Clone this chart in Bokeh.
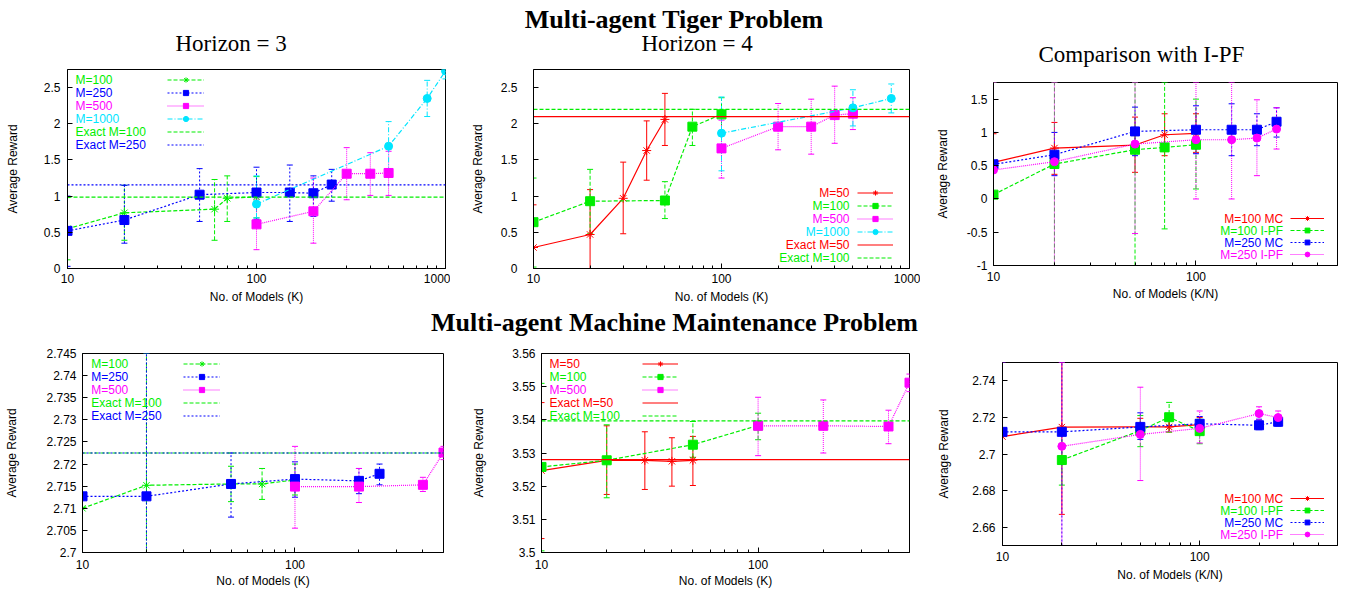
from bokeh.plotting import figure
from bokeh.models import (ColumnDataSource, Whisker, TeeHead, Legend, LegendItem,
                          Label, FixedTicker, PrintfTickFormatter, Range1d)
from bokeh.layouts import column, row
from bokeh.embed import file_html
from bokeh.resources import INLINE

# ---------------- data ----------------
XMAJOR_1000 = [10, 100, 1000]
XMAJOR_500 = [10, 100]
XMINOR = [20, 30, 40, 50, 60, 70, 80, 90, 200, 300, 400, 500, 600, 700, 800, 900]

# Tiger, Horizon = 3
T3_M100_X = [10, 20, 60, 70, 100]
T3_M100_Y = [0.55, 0.77, 0.82, 0.97, 0.99]
T3_M100_LO = [0.12, 0.39, 0.39, 0.65, 0.70]
T3_M100_HI = [0.98, 1.15, 1.23, 1.28, 1.27]
T3_M250_X = [10, 20, 50, 100, 150, 200, 250]
T3_M250_Y = [0.52, 0.67, 1.02, 1.05, 1.05, 1.04, 1.16]
T3_M250_LO = [0.03, 0.35, 0.65, 0.68, 0.65, 0.72, 0.93]
T3_M250_HI = [1.00, 1.15, 1.38, 1.40, 1.43, 1.28, 1.37]
T3_M500_X = [100, 200, 300, 400, 500]
T3_M500_Y = [0.61, 0.79, 1.31, 1.31, 1.32]
T3_M500_LO = [0.26, 0.35, 0.95, 1.01, 1.01]
T3_M500_HI = [0.96, 1.25, 1.67, 1.60, 1.62]
T3_M1000_X = [100, 500, 800, 1000]
T3_M1000_Y = [0.89, 1.69, 2.35, 2.73]
T3_M1000_LO = [0.70, 1.33, 2.10, 2.62]
T3_M1000_HI = [1.28, 2.03, 2.60, 2.75]
T3_EXACT = [0.985, 1.155]

# Tiger, Horizon = 4
T4_M50_X = [10, 20, 30, 40, 50]
T4_M50_Y = [0.29, 0.47, 0.97, 1.63, 2.06]
T4_M50_LO = [0.0, 0.0, 0.48, 1.22, 1.70]
T4_M50_HI = [0.88, 1.09, 1.47, 2.04, 2.42]
T4_M100_X = [10, 20, 50, 70, 100]
T4_M100_Y = [0.64, 0.93, 0.94, 1.96, 2.13]
T4_M100_LO = [0.02, 0.48, 0.69, 1.70, 1.90]
T4_M100_HI = [1.25, 1.37, 1.20, 2.20, 2.36]
T4_M500_X = [100, 200, 300, 400, 500]
T4_M500_Y = [1.66, 1.96, 1.96, 2.12, 2.14]
T4_M500_LO = [1.25, 1.64, 1.58, 1.73, 1.92]
T4_M500_HI = [2.05, 2.28, 2.34, 2.52, 2.36]
T4_M1000_X = [100, 500, 800]
T4_M1000_Y = [1.87, 2.22, 2.35]
T4_M1000_LO = [1.35, 1.97, 2.15]
T4_M1000_HI = [2.37, 2.47, 2.55]
T4_EXACT = [2.10, 2.20]

# Tiger, comparison with I-PF
TC_M100MC_X = [10, 20, 50, 70, 100]
TC_M100MC_Y = [0.55, 0.765, 0.81, 0.965, 0.985]
TC_M100MC_LO = [0.10, 0.37, 0.40, 0.65, 0.70]
TC_M100MC_HI = [0.98, 1.15, 1.23, 1.28, 1.28]
TC_M100PF_X = [10, 20, 50, 70, 100]
TC_M100PF_Y = [0.065, 0.525, 0.74, 0.775, 0.815]
TC_M100PF_LO = [-1.0, -1.0, -1.0, -0.45, 0.15]
TC_M100PF_HI = [1.75, 1.75, 1.75, 1.75, 1.50]
TC_M250MC_X = [10, 20, 50, 100, 150, 200, 250]
TC_M250MC_Y = [0.52, 0.665, 1.015, 1.04, 1.04, 1.04, 1.16]
TC_M250MC_LO = [0.03, 0.35, 0.65, 0.68, 0.65, 0.80, 0.93]
TC_M250MC_HI = [1.00, 1.00, 1.38, 1.40, 1.43, 1.28, 1.37]
TC_M250PF_X = [10, 20, 50, 100, 150, 200, 250]
TC_M250PF_Y = [0.435, 0.56, 0.825, 0.89, 0.89, 0.915, 1.05]
TC_M250PF_LO = [-1.0, -1.0, -0.52, 0.0, 0.0, 0.35, 0.75]
TC_M250PF_HI = [1.75, 1.75, 1.75, 1.75, 1.75, 1.49, 1.37]

# Machine maintenance, first panel
MA_M100_X = [10, 20, 50, 70, 100]
MA_M100_Y = [2.7100, 2.7152, 2.7155, 2.7155, 2.7164]
MA_M100_LO = [2.7000, 2.7000, 2.7115, 2.7120, 2.7130]
MA_M100_HI = [2.7450, 2.7450, 2.7195, 2.7190, 2.7200]
MA_M250_X = [10, 20, 50, 100, 200, 250]
MA_M250_Y = [2.7127, 2.7127, 2.7155, 2.7166, 2.7162, 2.7178]
MA_M250_LO = [2.7000, 2.7000, 2.7080, 2.7125, 2.7133, 2.7153]
MA_M250_HI = [2.7450, 2.7450, 2.7225, 2.7205, 2.7190, 2.7200]
MA_M500_X = [100, 200, 400, 500]
MA_M500_Y = [2.7149, 2.7149, 2.7153, 2.7226]
MA_M500_LO = [2.7055, 2.7113, 2.7138, 2.7210]
MA_M500_HI = [2.7240, 2.7190, 2.7170, 2.7240]
MA_EXACT = [2.7225, 2.7225]

# Machine maintenance, second panel
MB_M50_X = [10, 20, 30, 40, 50]
MB_M50_Y = [3.5247, 3.5278, 3.5278, 3.5275, 3.5278]
MB_M50_LO = [3.5042, 3.5175, 3.5190, 3.5200, 3.5202]
MB_M50_HI = [3.5452, 3.5382, 3.5364, 3.5346, 3.5350]
MB_M100_X = [10, 20, 50, 100]
MB_M100_Y = [3.5258, 3.5278, 3.5325, 3.5383]
MB_M100_LO = [3.5005, 3.5165, 3.5287, 3.5340]
MB_M100_HI = [3.5510, 3.5385, 3.5395, 3.5420]
MB_M500_X = [100, 200, 400, 500]
MB_M500_Y = [3.5382, 3.5382, 3.5380, 3.5512]
MB_M500_LO = [3.5292, 3.5300, 3.5328, 3.5485]
MB_M500_HI = [3.5468, 3.5460, 3.5429, 3.5538]
MB_EXACT = [3.5280, 3.5397]

# Machine maintenance, comparison with I-PF
MC_M100MC_X = [10, 20, 50, 70, 100]
MC_M100MC_Y = [2.7095, 2.7147, 2.7148, 2.7148, 2.7161]
MC_M100MC_LO = [2.6500, 2.6670, 2.7115, 2.7120, 2.7130]
MC_M100MC_HI = [2.7500, 2.7500, 2.7195, 2.7190, 2.7200]
MC_M100PF_X = [20, 50, 70, 100]
MC_M100PF_Y = [2.6967, 2.7128, 2.7201, 2.7125]
MC_M100PF_LO = [2.6830, 2.7040, 2.7120, 2.7056]
MC_M100PF_HI = [2.7105, 2.7210, 2.7282, 2.7190]
MC_M250MC_X = [10, 20, 50, 100, 200, 250]
MC_M250MC_Y = [2.7121, 2.7121, 2.7148, 2.7165, 2.7157, 2.7176]
MC_M250MC_LO = [2.6500, 2.6500, 2.7080, 2.7125, 2.7133, 2.7153]
MC_M250MC_HI = [2.7500, 2.7500, 2.7225, 2.7205, 2.7190, 2.7200]
MC_M250PF_X = [20, 50, 100, 200, 250]
MC_M250PF_Y = [2.7042, 2.7107, 2.7140, 2.7221, 2.7199]
MC_M250PF_LO = [2.6500, 2.6855, 2.7060, 2.7185, 2.7162]
MC_M250PF_HI = [2.7500, 2.7365, 2.7235, 2.7258, 2.7235]

# ---------------- styles ----------------
STY = {
    "red": ("#ff0000", "solid"),
    "green": ("#00ee00", "4 2"),
    "blue": ("#0000ff", "2 2"),
    "magenta": ("#ff00ff", "1 1"),
    "cyan": ("#00e5ff", "5 2 1 2"),
}
SANS = "Liberation Sans"
SERIF = "Liberation Serif"
MSIZE = {"square": 9, "asterisk": 9, "circle": 8}


def make_panel(w, h, bl, br, bt, bb, xr, yr, xticks, yticks, xlabel,
               y_tick_so, y_lab_so, x_tick_so, x_lab_so, series, exacts, leg):
    p = figure(width=w, height=h, x_axis_type="log", x_range=Range1d(*xr), y_range=Range1d(*yr),
               output_backend="svg", toolbar_location=None,
               min_border_left=bl, min_border_right=br, min_border_top=bt, min_border_bottom=bb)
    p.grid.visible = False
    p.outline_line_color = "black"
    p.outline_line_width = 1
    xa, ya = p.xaxis[0], p.yaxis[0]
    xa.ticker = FixedTicker(ticks=xticks, minor_ticks=XMINOR)
    ya.ticker = FixedTicker(ticks=yticks)
    for a in (xa, ya):
        a.formatter = PrintfTickFormatter(format="%g")
        a.major_tick_in = 5
        a.major_tick_out = 0
        a.minor_tick_in = 3
        a.minor_tick_out = 0
        a.major_label_text_font = SANS
        a.major_label_text_font_size = "12px"
        a.major_label_text_color = "black"
        a.axis_label_text_font = SANS
        a.axis_label_text_font_size = "12px"
        a.axis_label_text_font_style = "normal"
        a.axis_label_text_color = "black"
        a.axis_line_color = "black"
    ya.minor_tick_line_color = None
    xa.axis_label = xlabel
    ya.axis_label = "Average Reward"
    ya.major_label_standoff = y_tick_so
    ya.axis_label_standoff = y_lab_so
    xa.major_label_standoff = x_tick_so
    xa.axis_label_standoff = x_lab_so

    items = []
    for (xs, ys, lo, hi, sty, marker) in series:
        c, d = STY[sty]
        src = ColumnDataSource(dict(x=xs, y=ys, lo=lo, hi=hi))
        wk = Whisker(source=src, base="x", upper="hi", lower="lo", dimension="height",
                     line_color=c, line_dash=d, line_width=1,
                     upper_head=TeeHead(size=6, line_color=c, line_width=1),
                     lower_head=TeeHead(size=6, line_color=c, line_width=1))
        p.add_layout(wk)
        lr = p.line("x", "y", source=src, line_color=c, line_dash=d, line_width=1.2)
        sr = p.scatter("x", "y", source=src, marker=marker, size=MSIZE[marker], fill_color=c,
                       line_color=c, line_width=1)
        items.append([lr, sr])
    for (val, sty) in exacts:
        c, d = STY[sty]
        er = p.line(x=[xr[0], xr[1]], y=[val, val], line_color=c, line_dash=d, line_width=1.2)
        items.append([er])

    # legend: gnuplot style, coloured text followed by a sample
    labels, colors, tx, talign, top_c, rowh, gx, gw = leg
    n = len(labels)
    vy = top_c - (n - 0.5) * rowh
    lg = Legend(items=[LegendItem(label=" ", renderers=r) for r in items],
                location=(gx, vy), glyph_width=gw, glyph_height=rowh, label_height=rowh,
                label_width=0, label_standoff=0, spacing=0, padding=0, margin=0,
                border_line_color=None, background_fill_alpha=0, label_text_font_size="1px")
    p.add_layout(lg)
    for i, (t, cn) in enumerate(zip(labels, colors)):
        p.add_layout(Label(x=tx, y=top_c - i * rowh, x_units="screen", y_units="screen", text=t,
                           text_color=STY[cn][0], text_font=SANS, text_font_size="12px",
                           text_baseline="middle", text_align=talign))
    return p


def header(h, texts):
    p = figure(width=1348, height=h, x_range=Range1d(0, 1), y_range=Range1d(0, 1),
               output_backend="svg", toolbar_location=None, x_axis_location=None,
               y_axis_location=None, min_border_left=0, min_border_right=0,
               min_border_top=0, min_border_bottom=0, outline_line_color=None)
    p.grid.visible = False
    for (t, x, y, align, size, style) in texts:
        p.add_layout(Label(x=x, y=y, x_units="screen", y_units="screen", text=t,
                           text_font=SERIF, text_font_size=size, text_font_style=style,
                           text_color="black", text_align=align, text_baseline="middle"))
    return p


XLAB_K = "No. of Models (K)"
XLAB_KN = "No. of Models (K/N)"

# row 1: 238 px tall (page y 68..306)
f1 = make_panel(450, 238, 67, 5, 1, 36, (10, 1000), (0, 2.75), XMAJOR_1000,
                [0, 0.5, 1, 1.5, 2, 2.5], XLAB_K, 7, 21, 5, 4,
                [(T3_M100_X, T3_M100_Y, T3_M100_LO, T3_M100_HI, "green", "asterisk"),
                 (T3_M250_X, T3_M250_Y, T3_M250_LO, T3_M250_HI, "blue", "square"),
                 (T3_M500_X, T3_M500_Y, T3_M500_LO, T3_M500_HI, "magenta", "square"),
                 (T3_M1000_X, T3_M1000_Y, T3_M1000_LO, T3_M1000_HI, "cyan", "circle")],
                [(T3_EXACT[0], "green"), (T3_EXACT[1], "blue")],
                (["M=100", "M=250", "M=500", "M=1000", "Exact M=100", "Exact M=250"],
                 ["green", "blue", "magenta", "cyan", "green", "blue"], 8, "left", 188.3, 13, 100, 37))

f2 = make_panel(470, 238, 83, 11, 1, 36, (10, 1000), (0, 2.75), XMAJOR_1000,
                [0, 0.5, 1, 1.5, 2, 2.5], XLAB_K, 16, 13, 5, 4,
                [(T4_M50_X, T4_M50_Y, T4_M50_LO, T4_M50_HI, "red", "asterisk"),
                 (T4_M100_X, T4_M100_Y, T4_M100_LO, T4_M100_HI, "green", "square"),
                 (T4_M500_X, T4_M500_Y, T4_M500_LO, T4_M500_HI, "magenta", "square"),
                 (T4_M1000_X, T4_M1000_Y, T4_M1000_LO, T4_M1000_HI, "cyan", "circle")],
                [(T4_EXACT[0], "red"), (T4_EXACT[1], "green")],
                (["M=50", "M=100", "M=500", "M=1000", "Exact M=50", "Exact M=100"],
                 ["red", "green", "magenta", "cyan", "red", "green"], 316, "right", 76, 13, 324, 36))

f3 = make_panel(428, 238, 73, 11, 14, 41, (10, 500), (-1, 1.75), XMAJOR_500,
                [-1, -0.5, 0, 0.5, 1, 1.5], XLAB_KN, 6, 14, 6, 3,
                [(TC_M100MC_X, TC_M100MC_Y, TC_M100MC_LO, TC_M100MC_HI, "red", "asterisk"),
                 (TC_M100PF_X, TC_M100PF_Y, TC_M100PF_LO, TC_M100PF_HI, "green", "square"),
                 (TC_M250MC_X, TC_M250MC_Y, TC_M250MC_LO, TC_M250MC_HI, "blue", "square"),
                 (TC_M250PF_X, TC_M250PF_Y, TC_M250PF_LO, TC_M250PF_HI, "magenta", "circle")],
                [],
                (["M=100 MC", "M=100 I-PF", "M=250 MC", "M=250 I-PF"],
                 ["red", "green", "blue", "magenta"], 289.7, "right", 46.7, 12, 297, 34))

# row 2: 252 px tall (page y 338..590)
f4 = make_panel(450, 252, 82, 7, 15, 37, (10, 500), (2.7, 2.745), XMAJOR_500,
                [2.7, 2.705, 2.71, 2.715, 2.72, 2.725, 2.73, 2.735, 2.74, 2.745], XLAB_K,
                6, 24, 7, 2,
                [(MA_M100_X, MA_M100_Y, MA_M100_LO, MA_M100_HI, "green", "asterisk"),
                 (MA_M250_X, MA_M250_Y, MA_M250_LO, MA_M250_HI, "blue", "square"),
                 (MA_M500_X, MA_M500_Y, MA_M500_LO, MA_M500_HI, "magenta", "square")],
                [(MA_EXACT[0], "green"), (MA_EXACT[1], "blue")],
                (["M=100", "M=250", "M=500", "Exact M=100", "Exact M=250"],
                 ["green", "blue", "magenta", "green", "blue"], 8.7, "left", 188.7, 13, 101, 37))

f5 = make_panel(470, 252, 91, 11, 15, 37, (10, 500), (3.5, 3.56), XMAJOR_500,
                [3.5, 3.51, 3.52, 3.53, 3.54, 3.55, 3.56], XLAB_K,
                6, 23, 7, 2,
                [(MB_M50_X, MB_M50_Y, MB_M50_LO, MB_M50_HI, "red", "asterisk"),
                 (MB_M100_X, MB_M100_Y, MB_M100_LO, MB_M100_HI, "green", "square"),
                 (MB_M500_X, MB_M500_Y, MB_M500_LO, MB_M500_HI, "magenta", "square")],
                [(MB_EXACT[0], "red"), (MB_EXACT[1], "green")],
                (["M=50", "M=100", "M=500", "Exact M=50", "Exact M=100"],
                 ["red", "green", "magenta", "red", "green"], 8, "left", 188.7, 13, 100.7, 36))

f6 = make_panel(428, 252, 82, 11, 24, 45, (10, 500), (2.65, 2.75), XMAJOR_500,
                [2.66, 2.68, 2.7, 2.72, 2.74], XLAB_KN,
                7, 18, 6, 4,
                [(MC_M100MC_X, MC_M100MC_Y, MC_M100MC_LO, MC_M100MC_HI, "red", "asterisk"),
                 (MC_M100PF_X, MC_M100PF_Y, MC_M100PF_LO, MC_M100PF_HI, "green", "square"),
                 (MC_M250MC_X, MC_M250MC_Y, MC_M250MC_LO, MC_M250MC_HI, "blue", "square"),
                 (MC_M250PF_X, MC_M250PF_Y, MC_M250PF_LO, MC_M250PF_HI, "magenta", "circle")],
                [],
                (["M=100 MC", "M=100 I-PF", "M=250 MC", "M=250 I-PF"],
                 ["red", "green", "blue", "magenta"], 280.7, "right", 46.7, 12, 288, 34))

h1 = header(68, [("Multi-agent Tiger Problem", 674, 49.5, "center", "26px", "bold"),
                 ("Horizon = 3", 175, 25, "left", "23px", "normal"),
                 ("Horizon = 4", 641, 25, "left", "23px", "normal"),
                 ("Comparison with I-PF", 1038, 14.5, "left", "23px", "normal")])
h2 = header(32, [("Multi-agent Machine Maintenance Problem", 674, 16, "center", "26px", "bold")])

layout = column(h1,
                row(column(f1), column(f2), column(f3), spacing=0),
                h2,
                row(column(f4), column(f5), column(f6), spacing=0),
                spacing=0)

open("out.html", "w").write(file_html(layout, INLINE))
